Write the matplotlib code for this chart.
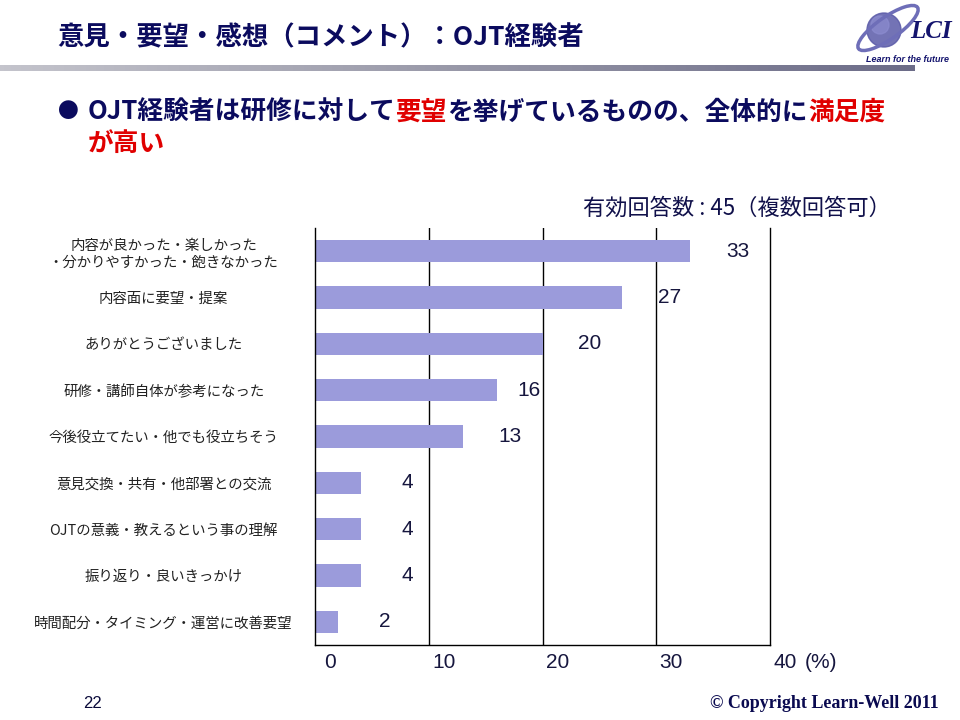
import matplotlib
matplotlib.use('Agg')
import matplotlib.pyplot as plt
import numpy as np
from matplotlib.patches import Ellipse, Circle
from matplotlib.colors import LinearSegmentedColormap
from matplotlib.transforms import ScaledTranslation

plt.rcParams['font.family'] = ['Noto Sans CJK JP', 'DejaVu Sans']

# chart data
categories = [
    '内容が良かった・楽しかった\n・分かりやすかった・飽きなかった',
    '内容面に要望・提案',
    'ありがとうございました',
    '研修・講師自体が参考になった',
    '今後役立てたい・他でも役立ちそう',
    '意見交換・共有・他部署との交流',
    'OJTの意義・教えるという事の理解',
    '振り返り・良いきっかけ',
    '時間配分・タイミング・運営に改善要望',
]
values = [33, 27, 20, 16, 13, 4, 4, 4, 2]
xticks = [0, 10, 20, 30, 40]
n_valid = 45

title = '意見・要望・感想（コメント）：OJT経験者'
note = f'有効回答数 : {n_valid}（複数回答可）'

NAVY = '#0b0b5e'
RED = '#e00000'
BAR = '#9b9bdb'
W, H = 960, 720


def fx(px):
    return px / W


def fy(py):
    return 1 - py / H


def draw_runs(fig, x, y, runs, **kw):
    """Draw colored text pieces one after another on a line."""
    renderer = fig.canvas.get_renderer()
    for s, c in runs:
        t = fig.text(x, y, s, color=c, va='center', ha='left', **kw)
        ext = t.get_window_extent(renderer)
        x = ext.x1 / fig.bbox.width


fig = plt.figure(figsize=(9.6, 7.2), dpi=100)

# header
fig.text(fx(57), fy(38), title, fontsize=19, fontweight='bold', color=NAVY, va='center')

gax = fig.add_axes([0, fy(71), fx(915), 6 / H])
grad_cmap = LinearSegmentedColormap.from_list('g', ['#c4c4cc', '#9898a8', '#6c6c88'])
gax.imshow(np.linspace(0, 1, 256)[None, :], aspect='auto', cmap=grad_cmap)
gax.axis('off')

# logo
lax = fig.add_axes([fx(840), fy(80), fx(120), 80 / H])
lax.set_xlim(840, 960)
lax.set_ylim(80, 0)
lax.axis('off')
lax.add_patch(Circle((884, 30), 17, color='#5a5aa8', alpha=0.85))
lax.add_patch(Circle((880, 25), 9, color='#8c8cd0', alpha=0.7))
lax.add_patch(Ellipse((888, 28), 72, 22, angle=-35, fill=False, ec='#6e6eb8', lw=2.5))
lax.text(931, 31, 'LCI', fontsize=18, family='Liberation Serif', style='italic',
         weight='bold', color='#14146e', ha='center', va='center')
lax.text(907, 59, 'Learn for the future', fontsize=6.5, family='Liberation Sans',
         style='italic', weight='bold', color='#14146e', ha='center', va='center')

# bullet line
fig.text(fx(68), fy(112), '●', fontsize=15, color=NAVY, ha='center', va='center')
line1 = [('OJT経験者は研修に対して', NAVY), ('要望', RED),
         ('を挙げているものの、全体的に', NAVY), ('満足度', RED)]
draw_runs(fig, fx(88), fy(112), line1, fontsize=18.5, fontweight='bold')
draw_runs(fig, fx(88), fy(143), [('が高い', RED)], fontsize=18.5, fontweight='bold')

fig.text(fx(891), fy(208), note, fontsize=16, color='#10104a', ha='right', va='center')

# bar chart
ax = fig.add_axes([fx(315), fy(645), fx(455), 417 / H])
y = np.arange(len(values))
ax.barh(y, values, height=0.48, color=BAR, zorder=2)
ax.set_xlim(0, 40)
ax.set_ylim(len(values) - 0.5, -0.5)

for xv in xticks[1:-1]:
    ax.axvline(xv, color='black', lw=1.0, zorder=1)
ax.spines['top'].set_visible(False)
for side in ['left', 'bottom', 'right']:
    ax.spines[side].set_linewidth(1.0)

ax.set_yticks(y)
ax.set_yticklabels(categories, fontsize=10.4, color='#222222', ha='center',
                   multialignment='center', linespacing=1.25)
ax.tick_params(axis='y', length=0, pad=109)

ax.set_xticks(xticks)
ax.set_xticklabels([str(v) for v in xticks], fontsize=15, color='#16163e',
                   family='Liberation Sans')
ax.tick_params(axis='x', length=0, pad=6)
shift = ScaledTranslation(0.15, 0, fig.dpi_scale_trans)
for lab in ax.get_xticklabels():
    lab.set_transform(lab.get_transform() + shift)
fig.text(fx(805), fy(662), '(%)', fontsize=15, color='#16163e',
         family='Liberation Sans', va='center', ha='left')

# value labels
label_gap = 34
label_nudge = {3: -11}
for i, v in enumerate(values):
    ax.annotate(str(v), xy=(v, i), xytext=(label_gap + label_nudge.get(i, 0), 0),
                textcoords='offset points', ha='center', va='center',
                fontsize=15, color='#16163e', family='Liberation Sans')

# footer
fig.text(fx(93), fy(703), '22', fontsize=12, color='#0a0a3a', family='Liberation Sans',
         ha='center', va='center')
fig.text(fx(939), fy(703), '© Copyright Learn-Well 2011', fontsize=13,
         family='Liberation Serif', weight='bold', color='#0a0a50', ha='right', va='center')

fig.savefig('out.png', dpi=100)
